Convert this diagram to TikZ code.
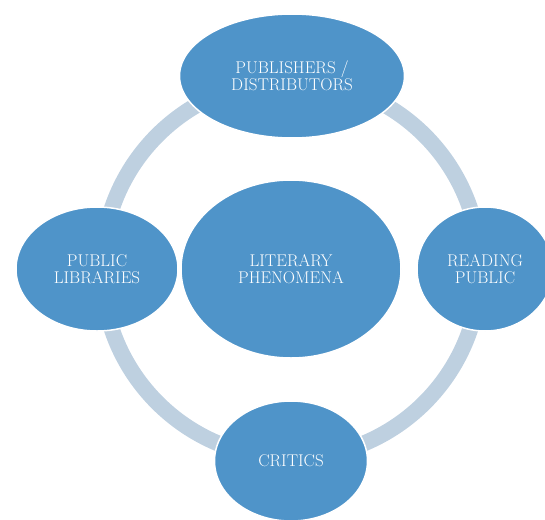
\documentclass[tikz,border=0pt]{standalone}
\usetikzlibrary{shapes.geometric,backgrounds}

\definecolor{bubble}{RGB}{79,148,201}
\definecolor{ringgray}{RGB}{190,208,224}

\tikzset{
  bubblenode/.style={ellipse, fill=bubble, draw=white, line width=1.5pt,
    inner sep=0pt, text=white, align=center,
    font=\fontsize{17}{17.5}\selectfont},
  ringline/.style={draw=ringgray, line width=16pt}
}

\begin{document}
\begin{tikzpicture}[x=1pt,y=-1pt]
  \useasboundingbox (0,0) rectangle (545,519);

  % hub and the four surrounding actors
  \node[bubblenode, minimum width=220pt, minimum height=178pt] (hub) at (291,269)
    {LITERARY\\PHENOMENA};
  \node[bubblenode, minimum width=225pt, minimum height=124pt] (pub) at (292,76)
    {PUBLISHERS /\\DISTRIBUTORS};
  \node[bubblenode, minimum width=162pt, minimum height=124pt] (lib) at (97,269)
    {PUBLIC\\LIBRARIES};
  \node[bubblenode, minimum width=136pt, minimum height=124pt] (read) at (485,269)
    {READING\\PUBLIC};
  \node[bubblenode, minimum width=153pt, minimum height=120pt] (crit) at (291,461)
    {CRITICS};

  % the cycle linking the actors, behind them
  \begin{scope}[on background layer]
    \draw[ringline] (hub.center) circle[radius=189pt];
  \end{scope}
\end{tikzpicture}
\end{document}
